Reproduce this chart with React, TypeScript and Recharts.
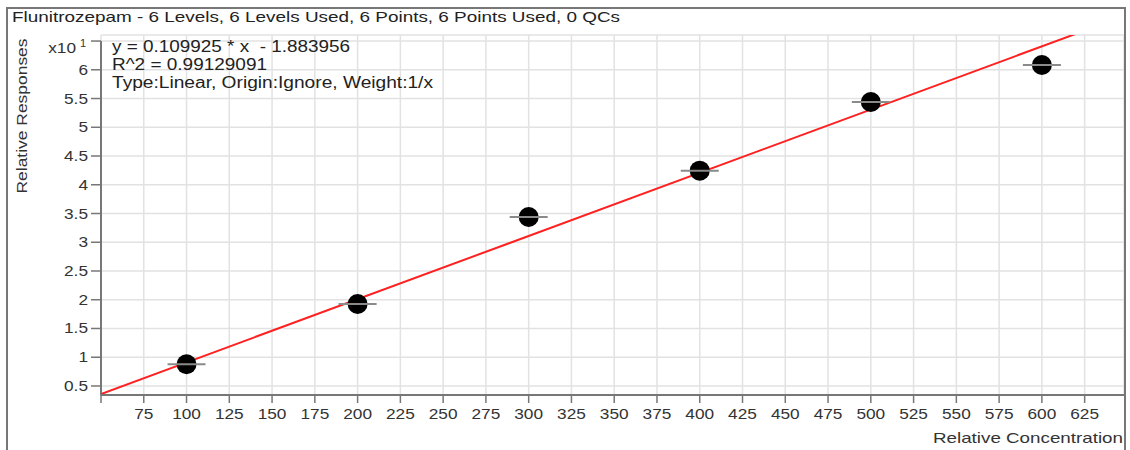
import React from 'react';
import {
  ComposedChart,
  Line,
  Scatter,
  XAxis,
  YAxis,
  CartesianGrid,
  ReferenceLine,
} from 'recharts';

// Calibration levels (relative concentration) and measured relative responses (x10^1)
const concentrations = [100, 200, 300, 400, 500, 600];
const responses = [0.877, 1.926, 3.439, 4.245, 5.44, 6.083];

// Axis ticks and ranges
const xTicks = [50, 75, 100, 125, 150, 175, 200, 225, 250, 275, 300, 325, 350, 375, 400, 425, 450, 475, 500, 525, 550, 575, 600, 625];
const yTicks = [0.5, 1, 1.5, 2, 2.5, 3, 3.5, 4, 4.5, 5, 5.5, 6, 6.5];
const xDomain = [50, 648];
const yDomain = [0.343, 6.605];

// Linear fit reported for the curve: y = 0.109925 * x - 1.883956 (responses plotted in x10 units)
const FIT_SLOPE = 0.109925;
const FIT_INTERCEPT = -1.883956;
const fitXs = [50, 620];

const titleText = 'Flunitrozepam - 6 Levels, 6 Levels Used, 6 Points, 6 Points Used, 0 QCs';
const fitLines = [
  'y = 0.109925 * x  - 1.883956',
  'R^2 = 0.99129091',
  'Type:Linear, Origin:Ignore, Weight:1/x',
];

const points = concentrations.map((x, i) => ({ x, y: responses[i] }));
const fitData = fitXs.map((x) => ({ x, y: (FIT_SLOPE * x + FIT_INTERCEPT) / 10 }));

const FONT = '"Liberation Sans", Arial, Helvetica, sans-serif';
const STRETCH = 1.15;

const XTick = (props: any) => {
  const { x, y, payload } = props;
  if (payload.value === 50) return <g />;
  return (
    <g transform={`translate(${x},${y}) scale(${STRETCH},1)`}>
      <text x={0} y={14} textAnchor="middle" fontSize={15} fill="#333" fontFamily={FONT}>
        {payload.value}
      </text>
    </g>
  );
};

const YTick = (props: any) => {
  const { x, y, payload } = props;
  if (payload.value === 6.5) {
    return (
      <g>
        <g transform={`translate(${x - 12},${y}) scale(${STRETCH},1)`}>
          <text x={0} y={12} textAnchor="end" fontSize={15} fill="#333" fontFamily={FONT}>
            x10
          </text>
        </g>
        <text x={x - 8} y={y + 6} fontSize={11} fill="#333" fontFamily={FONT}>
          1
        </text>
      </g>
    );
  }
  return (
    <g transform={`translate(${x},${y}) scale(${STRETCH},1)`}>
      <text x={0} y={5} textAnchor="end" fontSize={15} fill="#333" fontFamily={FONT}>
        {payload.value}
      </text>
    </g>
  );
};

// Calibration point: black dot with a grey horizontal bar through it
const PointMarker = (props: any) => {
  const { cx, cy } = props;
  if (cx == null || cy == null) return <g />;
  return (
    <g>
      <circle cx={cx} cy={cy} r={10} fill="#000" />
      <line x1={cx - 19} x2={cx + 19} y1={cy} y2={cy} stroke="#8a8a8a" strokeWidth={2} />
    </g>
  );
};

export default function App() {
  return (
    <div style={{ position: 'absolute', left: 0, top: 0, width: 1130, height: 450, background: '#fff' }}>
      <ComposedChart
        width={1130}
        height={450}
        margin={{ top: 35, right: 6, bottom: 0, left: 0 }}
        style={{ position: 'absolute', left: 0, top: 0 }}
      >
        <CartesianGrid stroke="#e2e2e2" strokeWidth={1.5} />
        <XAxis
          dataKey="x"
          type="number"
          domain={xDomain}
          ticks={xTicks}
          allowDataOverflow
          height={55}
          tickSize={8}
          tickMargin={2}
          tick={<XTick />}
          axisLine={{ stroke: '#777', strokeWidth: 2 }}
          tickLine={{ stroke: '#777', strokeWidth: 1.5 }}
        />
        <YAxis
          dataKey="y"
          type="number"
          domain={yDomain}
          ticks={yTicks}
          allowDataOverflow
          width={101}
          tickSize={10}
          tickMargin={3}
          tick={<YTick />}
          axisLine={false}
          tickLine={{ stroke: '#777', strokeWidth: 1.5 }}
        />
        <ReferenceLine
          segment={[
            { x: xDomain[0], y: yDomain[0] },
            { x: xDomain[0], y: 6.5 },
          ]}
          stroke="#777"
          strokeWidth={2}
        />
        <Line
          data={fitData}
          dataKey="y"
          stroke="#ff2020"
          strokeWidth={2}
          dot={false}
          isAnimationActive={false}
        />
        <Scatter data={points} dataKey="y" shape={<PointMarker />} isAnimationActive={false} />
      </ComposedChart>
      <svg
        width={1130}
        height={450}
        style={{ position: 'absolute', left: 0, top: 0, pointerEvents: 'none' }}
        fontFamily={FONT}
      >
        <path d="M7,452 L7,8 L1125,8 L1125,452" fill="none" stroke="#777" strokeWidth={2} />
        <text x={12} y={22} fontSize={15} fill="#222" textLength={608} lengthAdjust="spacingAndGlyphs">
          {titleText}
        </text>
        <text x={112} y={52} fontSize={16} fill="#222" textLength={238} lengthAdjust="spacingAndGlyphs" style={{ whiteSpace: 'pre' }}>
          {fitLines[0]}
        </text>
        <text x={112} y={70} fontSize={16} fill="#222" textLength={155} lengthAdjust="spacingAndGlyphs">
          {fitLines[1]}
        </text>
        <text x={112} y={88} fontSize={16} fill="#222" textLength={321} lengthAdjust="spacingAndGlyphs">
          {fitLines[2]}
        </text>
        <text x={933} y={443} fontSize={15} fill="#333" textLength={190} lengthAdjust="spacingAndGlyphs">
          Relative Concentration
        </text>
        <text
          transform="translate(27,116) rotate(-90)"
          x={-77.5}
          y={0}
          fontSize={15}
          fill="#333"
          textLength={155}
          lengthAdjust="spacingAndGlyphs"
        >
          Relative Responses
        </text>
      </svg>
    </div>
  );
}
